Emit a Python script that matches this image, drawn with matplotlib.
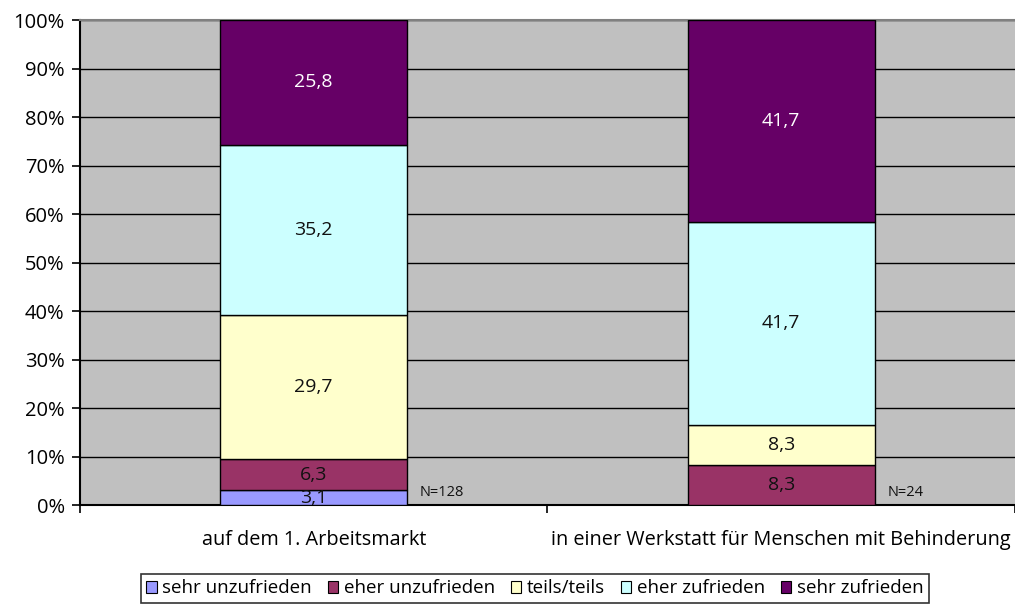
import matplotlib.pyplot as plt
from matplotlib.patches import Patch
import numpy as np

plt.rcParams['font.family'] = ['Open Sans', 'DejaVu Sans']

# Zufriedenheit nach Arbeitsort, Anteile in Prozent
groups = ['auf dem 1. Arbeitsmarkt', 'in einer Werkstatt für Menschen mit Behinderung']
n_labels = ['N=128', 'N=24']
levels = ['sehr unzufrieden', 'eher unzufrieden', 'teils/teils', 'eher zufrieden', 'sehr zufrieden']
sehr_unzufrieden = [3.1, 0.0]
eher_unzufrieden = [6.3, 8.3]
teils_teils = [29.7, 8.3]
eher_zufrieden = [35.2, 41.7]
sehr_zufrieden = [25.8, 41.7]

colors = ['#9999FF', '#993366', '#FFFFCC', '#CCFFFF', '#660066']
text_colors = ['#111111', '#111111', '#111111', '#111111', 'white']

series = [sehr_unzufrieden, eher_unzufrieden, teils_teils, eher_zufrieden, sehr_zufrieden]

fig = plt.figure(figsize=(10.15, 6.07), dpi=100)
ax = fig.add_axes([0.0788, 0.168, 0.9212, 0.799])
ax.set_facecolor('#C0C0C0')

x = np.arange(len(groups))
bottom = np.zeros(len(groups))
for vals, col, tcol in zip(series, colors, text_colors):
    vals = np.array(vals)
    ax.bar(x, vals, 0.4, bottom=bottom, color=col, edgecolor='black', linewidth=1.0, zorder=3)
    for xi, v, b in zip(x, vals, bottom):
        if v > 0:
            ax.text(xi, b + v / 2, f'{v:.1f}'.replace('.', ','), ha='center', va='center',
                    fontsize=14, color=tcol, zorder=4)
    bottom += vals

for xi, lab in zip(x, n_labels):
    ax.text(xi + 0.227, 2.5, lab, ha='left', va='center', fontsize=10.5, color='#111111', zorder=4)

ax.set_xlim(-0.5, 1.5)
ax.set_ylim(0, 100)
ax.set_yticks(np.arange(0, 101, 10))
ax.set_yticklabels([f'{v}%' for v in range(0, 101, 10)], fontsize=14.5)
ax.yaxis.grid(True, color='black', linewidth=1.0, zorder=1)
ax.set_axisbelow(True)

ax.set_xticks(x)
ax.set_xticklabels(groups, fontsize=14.3)
ax.set_xticks([-0.5, 0.5, 1.5], minor=True)
ax.tick_params(axis='x', which='major', length=0, pad=18)
ax.tick_params(axis='x', which='minor', length=6, width=1.2, color='black')
ax.tick_params(axis='y', length=6, width=1.2, color='black', pad=5)

ax.spines['right'].set_visible(False)
ax.spines['top'].set_color('#808080')
ax.spines['top'].set_linewidth(1.5)
ax.spines['left'].set_linewidth(1.5)
ax.spines['bottom'].set_linewidth(1.5)

handles = [Patch(facecolor=c, edgecolor='black', linewidth=0.8) for c in colors]
leg = fig.legend(handles, levels, loc='center', bbox_to_anchor=(0.527, 0.0305), ncol=5,
                 fontsize=13.5, frameon=True, fancybox=False, edgecolor='black',
                 handlelength=0.55, handleheight=0.55, handletextpad=0.3,
                 columnspacing=0.85, borderpad=0.3, borderaxespad=0)
leg.get_frame().set_linewidth(1.2)

fig.savefig('out.png', dpi=100)
